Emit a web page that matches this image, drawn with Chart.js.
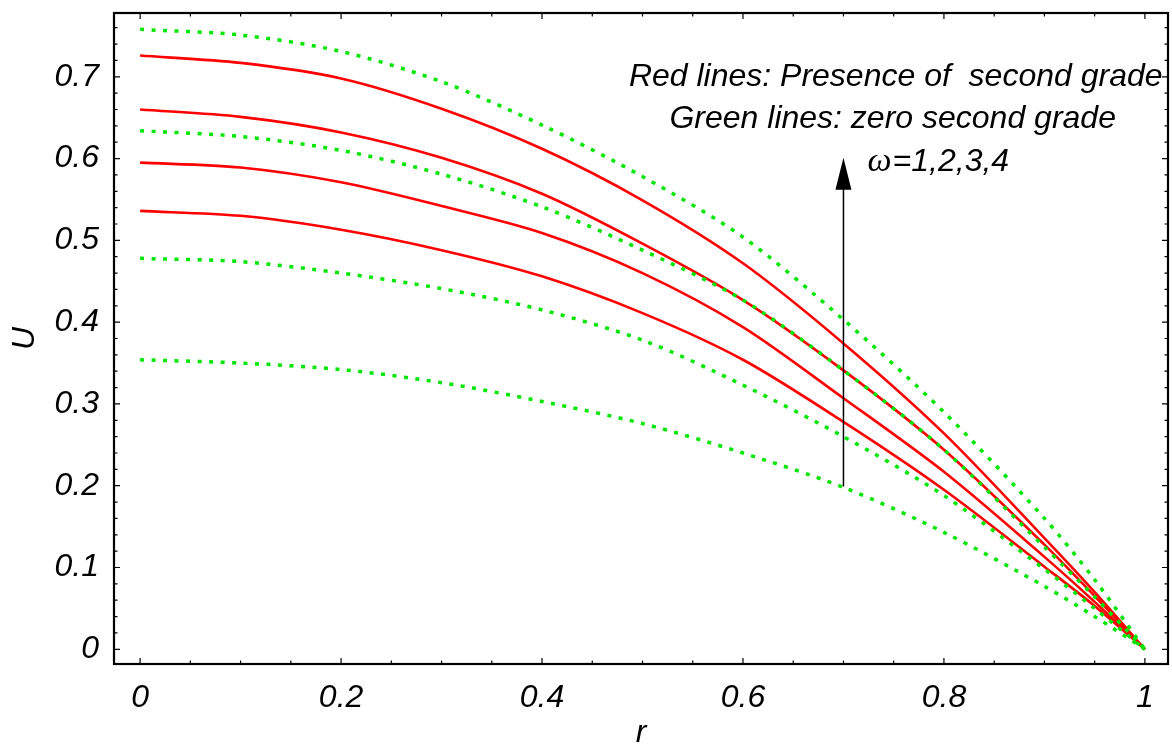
<!DOCTYPE html>
<html>
<head>
<meta charset="utf-8">
<script src="https://cdn.jsdelivr.net/npm/chart.js@4.4.1/dist/chart.umd.min.js"></script>
<style>
  body { margin: 0; background: #fff; }
  #wrap { width: 1172px; height: 749px; }
</style>
</head>
<body>
<div id="wrap"><canvas id="chart"></canvas></div>
<script>
// radial positions
var rValues = [0, 0.1, 0.2, 0.3, 0.4, 0.5, 0.6, 0.7, 0.8, 0.9, 0.95, 1];

// velocity U, second grade present (red), omega = 1..4
var red1 = [0.536, 0.530, 0.513, 0.488, 0.456, 0.411, 0.354, 0.278, 0.195, 0.101, 0.053, 0];
var red2 = [0.595, 0.589, 0.571, 0.542, 0.509, 0.460, 0.394, 0.307, 0.217, 0.113, 0.058, 0];
var red3 = [0.660, 0.651, 0.632, 0.601, 0.557, 0.496, 0.427, 0.341, 0.244, 0.128, 0.065, 0];
var red4 = [0.726, 0.717, 0.698, 0.661, 0.612, 0.549, 0.472, 0.374, 0.264, 0.136, 0.070, 0];

// velocity U, zero second grade (green), omega = 1..4
var green1 = [0.354, 0.350, 0.342, 0.326, 0.303, 0.276, 0.240, 0.198, 0.143, 0.077, 0.040, 0];
var green2 = [0.478, 0.474, 0.460, 0.441, 0.415, 0.378, 0.323, 0.260, 0.188, 0.098, 0.050, 0];
var green3 = [0.634, 0.627, 0.610, 0.581, 0.541, 0.488, 0.427, 0.341, 0.244, 0.125, 0.064, 0];
var green4 = [0.758, 0.751, 0.731, 0.694, 0.641, 0.578, 0.504, 0.403, 0.290, 0.160, 0.085, 0];

var xTicks = [0, 0.2, 0.4, 0.6, 0.8, 1];
var xTickLabels = ['0', '0.2', '0.4', '0.6', '0.8', '1'];
var yTicks = [0, 0.1, 0.2, 0.3, 0.4, 0.5, 0.6, 0.7];
var yTickLabels = ['0', '0.1', '0.2', '0.3', '0.4', '0.5', '0.6', '0.7'];

// annotation text and arrow (data units)
var noteLines = ['Red lines: Presence of  second grade', 'Green lines: zero second grade'];
var omegaSymbol = '\u03c9';
var omegaValues = '=1,2,3,4';
var arrowX = 0.7;
var arrowFrom = 0.199;
var arrowTo = 0.601;

var FONT = 'Liberation Sans, Arial, sans-serif';

function toPoints(ys) {
    return ys.map(function (v, i) { return { x: rValues[i], y: v }; });
}

function greenSet(ys) {
    return {
        data: toPoints(ys),
        borderColor: '#00e600',
        borderWidth: 3.5,
        borderDash: [4, 7.5],
        borderCapStyle: 'butt',
        pointRadius: 0,
        tension: 0.3,
        fill: false
    };
}

function redSet(ys) {
    return {
        data: toPoints(ys),
        borderColor: '#ff0000',
        borderWidth: 2.6,
        pointRadius: 0,
        tension: 0.3,
        fill: false
    };
}

var framePlugin = {
    id: 'frame',
    afterDraw: function (chart) {
        var ctx = chart.ctx;
        var a = chart.chartArea;
        var x = chart.scales.x;
        var y = chart.scales.y;
        ctx.save();
        ctx.strokeStyle = '#000';
        ctx.lineWidth = 1.2;
        ctx.beginPath();
        for (var i = 0; i <= 20; i++) {
            var px = x.getPixelForValue(i * 0.05);
            var len = (i % 4 === 0) ? 6 : 3.5;
            ctx.moveTo(px, a.bottom); ctx.lineTo(px, a.bottom - len);
            ctx.moveTo(px, a.top); ctx.lineTo(px, a.top + len);
        }
        for (var j = 0; j <= 38; j++) {
            var py = y.getPixelForValue(j * 0.02);
            var l2 = (j % 5 === 0) ? 6 : 3.5;
            ctx.moveTo(a.left, py); ctx.lineTo(a.left + l2, py);
            ctx.moveTo(a.right, py); ctx.lineTo(a.right - l2, py);
        }
        ctx.stroke();
        ctx.lineWidth = 2.2;
        ctx.strokeRect(a.left, a.top, a.right - a.left, a.bottom - a.top);

        // arrow
        var ax = x.getPixelForValue(arrowX);
        var ay0 = y.getPixelForValue(arrowFrom);
        var ay1 = y.getPixelForValue(arrowTo);
        ctx.lineWidth = 1.5;
        ctx.beginPath();
        ctx.moveTo(ax, ay0);
        ctx.lineTo(ax, ay1 + 28);
        ctx.stroke();
        ctx.fillStyle = '#000';
        ctx.beginPath();
        ctx.moveTo(ax, ay1);
        ctx.lineTo(ax - 8, ay1 + 32);
        ctx.lineTo(ax + 8, ay1 + 32);
        ctx.closePath();
        ctx.fill();

        // notes
        ctx.font = 'italic 32px ' + FONT;
        ctx.textAlign = 'center';
        ctx.textBaseline = 'alphabetic';
        ctx.fillText(noteLines[0], x.getPixelForValue(0.752), y.getPixelForValue(0.689));
        ctx.fillText(noteLines[1], x.getPixelForValue(0.749), y.getPixelForValue(0.637));
        ctx.textAlign = 'left';
        var ox = x.getPixelForValue(0.724);
        var oy = y.getPixelForValue(0.585);
        ctx.font = 'italic 34px Liberation Serif, serif';
        ctx.fillText(omegaSymbol, ox, oy);
        var w = ctx.measureText(omegaSymbol).width;
        ctx.font = 'italic 32px ' + FONT;
        ctx.fillText(omegaValues, ox + w + 1, oy);
        ctx.restore();
    }
};

var ctx = document.getElementById('chart').getContext('2d');
var chart = new Chart(ctx, {
    type: 'line',
    data: {
        datasets: [
            greenSet(green1), greenSet(green2), greenSet(green3), greenSet(green4),
            redSet(red1), redSet(red2), redSet(red3), redSet(red4)
        ]
    },
    options: {
        responsive: true,
        maintainAspectRatio: false,
        animation: false,
        layout: { padding: { top: 13, right: 4, left: 0, bottom: 0 } },
        plugins: { legend: { display: false }, tooltip: { enabled: false } },
        scales: {
            x: {
                type: 'linear',
                min: -0.026,
                max: 1.023,
                afterFit: function (s) { s.height = 85; s.paddingLeft = 0; s.paddingRight = 0; },
                afterBuildTicks: function (s) { s.ticks = xTicks.map(function (v) { return { value: v }; }); },
                grid: { display: false, drawTicks: false },
                border: { display: false },
                ticks: {
                    padding: 15,
                    maxRotation: 0,
                    color: '#000',
                    font: { family: FONT, size: 32, style: 'italic' },
                    callback: function (v, i) { return xTickLabels[i]; }
                },
                title: {
                    display: true,
                    text: 'r',
                    color: '#000',
                    padding: 0,
                    font: { family: FONT, size: 32, style: 'italic', lineHeight: 1 }
                }
            },
            y: {
                type: 'linear',
                min: -0.018,
                max: 0.778,
                afterFit: function (s) { s.width = 114; s.paddingTop = 0; s.paddingBottom = 0; },
                afterBuildTicks: function (s) { s.ticks = yTicks.map(function (v) { return { value: v }; }); },
                grid: { display: false, drawTicks: false },
                border: { display: false },
                ticks: {
                    padding: 15,
                    color: '#000',
                    font: { family: FONT, size: 32, style: 'italic' },
                    callback: function (v, i) { return yTickLabels[i]; }
                },
                title: {
                    display: true,
                    text: 'U',
                    color: '#000',
                    padding: { top: 6, bottom: 0 },
                    font: { family: FONT, size: 32, style: 'italic', lineHeight: 1.2 }
                }
            }
        }
    },
    plugins: [framePlugin]
});
</script>
</body>
</html>
